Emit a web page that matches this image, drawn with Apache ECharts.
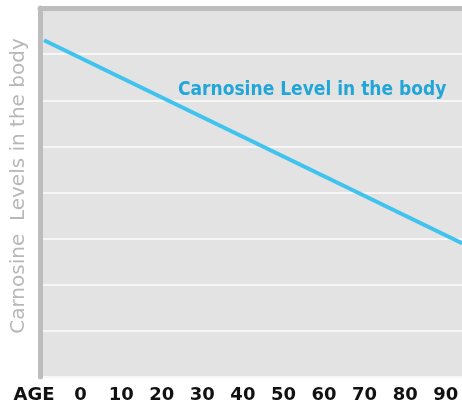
<!DOCTYPE html>
<html>
<head>
<meta charset="utf-8">
<script src="https://cdn.jsdelivr.net/npm/echarts@6/dist/echarts.min.js"></script>
<style>
  html, body { margin: 0; padding: 0; background: #fff; }
  #chart { width: 462px; height: 404px; }
</style>
</head>
<body>
<div id="chart"></div>
<script>
// line from young to old age
const ages = [-9, 94];
const levels = [7.3, 2.9];
const lineName = 'Carnosine Level in the body';
const yTitle = 'Carnosine  Levels in the body';

const chart = echarts.init(document.getElementById('chart'));
chart.setOption({
    animation: false,
    title: {
        text: lineName,
        left: 173, top: 76,
        textStyle: { color: '#22a6d8', fontSize: 19, fontWeight: 'bold', fontFamily: '"DejaVu Sans Condensed"' }
    },
    grid: {
        left: 40, right: 0, top: 8, bottom: 27,
        show: true, backgroundColor: '#e3e3e3', borderWidth: 0,
        containLabel: false, outerBoundsMode: 'none'
    },
    xAxis: [{
        type: 'value', min: -10, max: 94, interval: 10,
        axisLine: { show: false }, axisTick: { show: false }, splitLine: { show: false },
        axisLabel: {
            margin: 9, showMaxLabel: false,
            color: '#111', fontSize: 18, fontWeight: 'bold', fontFamily: 'DejaVu Sans',
            formatter: v => v === -10 ? '{a|AGE}' : String(v),
            rich: { a: { fontSize: 18, fontWeight: 'bold', fontFamily: 'DejaVu Sans', color: '#111', padding: [0, 12, 0, 0] } }
        }
    }, {
        type: 'value', position: 'top', min: -10, max: 94,
        axisLine: { show: true, onZero: false, lineStyle: { color: '#bdbdbd', width: 5 } },
        axisTick: { show: false }, axisLabel: { show: false }, splitLine: { show: false }
    }],
    yAxis: {
        type: 'value', min: 0, max: 8, interval: 1,
        name: yTitle, nameLocation: 'middle', nameRotate: 90, nameGap: 11,
        nameTextStyle: { color: '#b8b8b8', fontSize: 20, fontFamily: 'DejaVu Sans', padding: [0, 0, 0, 13] },
        axisLine: { show: true, onZero: false, lineStyle: { color: '#bdbdbd', width: 5 } },
        axisTick: { show: false }, axisLabel: { show: false },
        splitLine: { lineStyle: { color: '#f6f6f6', width: 2 } }
    },
    series: [{
        type: 'line',
        data: ages.map((a, i) => [a, levels[i]]),
        showSymbol: false,
        lineStyle: { color: '#40c3ee', width: 4 }
    }]
});
</script>
</body>
</html>
